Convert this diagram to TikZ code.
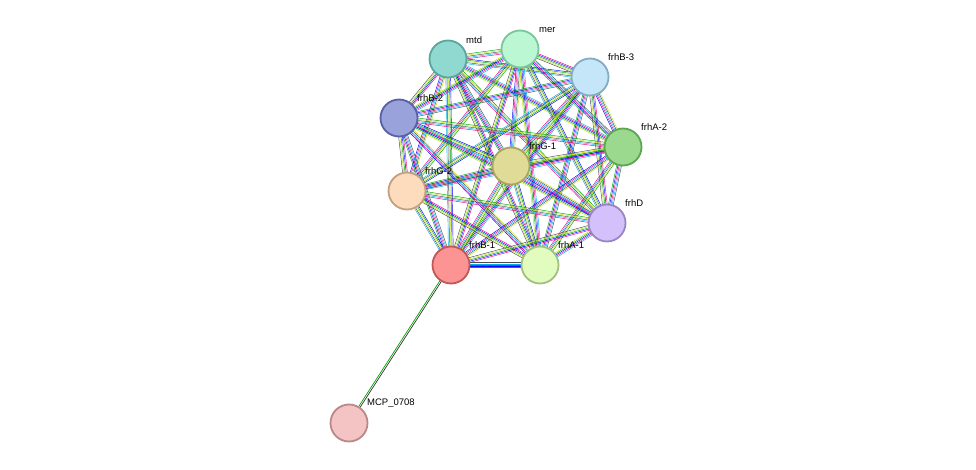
\documentclass[tikz,border=0pt]{standalone}
\usepackage{fontspec}
\setmainfont{Liberation Sans}
\usetikzlibrary{calc}
\begin{document}
\begin{tikzpicture}[x=1pt,y=-1pt,
  prot/.style={circle,minimum size=37pt,inner sep=0pt,line width=1.8pt},
  lab/.style={font=\fontsize{9.5}{11}\selectfont,anchor=south west,inner sep=0pt},
  ed/.style={line width=0.45pt}]
\useasboundingbox (0,0) rectangle (976,470);
\def\P{mtd/448/59/8fd9d0/5aa69d, mer/520/49/bcf7d4/7ac79a, frhBthree/590/77/c4e6f8/85abc4, frhBtwo/399/118/9aa2dc/5860a8, frhAtwo/623/147/9ad98e/5ca653, frhGone/511/166/e0dc98/a9a560, frhGtwo/407/191/fcdcbc/c2a080, frhD/607/223/d4c0fa/9a85c4, frhBone/451/265/fc9494/c05858, frhAone/540/265/e2fcc0/a3c080}
\foreach \n/\x/\y/\f/\b in \P {\coordinate (\n) at (\x,\y);}
\coordinate (MCP) at (349,423);
\def\cols{{"yellow!75!green","green!65!black","blue","magenta","cyan","black!70"}}
\foreach \a [count=\i] in {mtd,mer,frhBthree,frhBtwo,frhAtwo,frhGone,frhGtwo,frhD,frhBone,frhAone}{
  \foreach \b [count=\j] in {mtd,mer,frhBthree,frhBtwo,frhAtwo,frhGone,frhGtwo,frhD,frhBone,frhAone}{
    \ifnum\j>\i
      \foreach \k in {0,...,4}{
        \pgfmathsetmacro\o{(\k-2)*1.2}
        \pgfmathparse{\cols[mod(\k+\i+\j,6)]}\edef\cc{\pgfmathresult}
        \draw[ed,color=\cc] ($(\a)!\o pt!90:(\b)$) -- ($(\b)!\o pt!-90:(\a)$);
      }
    \fi
  }
}
\draw[ed,line width=0.7pt,green!65!black] ($(frhBone)!-0.8pt!90:(MCP)$) -- ($(MCP)!-0.8pt!-90:(frhBone)$);
\draw[ed,line width=0.7pt,black!80] ($(frhBone)!0.8pt!90:(MCP)$) -- ($(MCP)!0.8pt!-90:(frhBone)$);
\foreach \n/\x/\y/\f/\b in \P {
  \definecolor{fc}{HTML}{\f}\definecolor{bc}{HTML}{\b}
  \node[prot,fill=fc,draw=bc] (N\n) at (\n) {};
}
\definecolor{fc}{HTML}{F4C4C4}\definecolor{bc}{HTML}{BB8888}
\node[prot,fill=fc,draw=bc] (NMCP) at (MCP) {};
\node[lab] (Lmtd) at (466,44) {mtd};
\node[lab] (Lmer) at (539,33) {mer};
\node[lab] (Lb3) at (608,61) {frhB-3};
\node[lab] (Lb2) at (417,102) {frhB-2};
\node[lab] (La2) at (641,131) {frhA-2};
\node[lab] (Lg1) at (529,150) {frhG-1};
\node[lab] (Lg2) at (425,175) {frhG-2};
\node[lab] (Ld) at (625,207) {frhD};
\node[lab] (Lb1) at (469,249) {frhB-1};
\node[lab] (La1) at (558,249) {frhA-1};
\node[lab] (Lm) at (367,408) {MCP\_0708};
\end{tikzpicture}
\end{document}
